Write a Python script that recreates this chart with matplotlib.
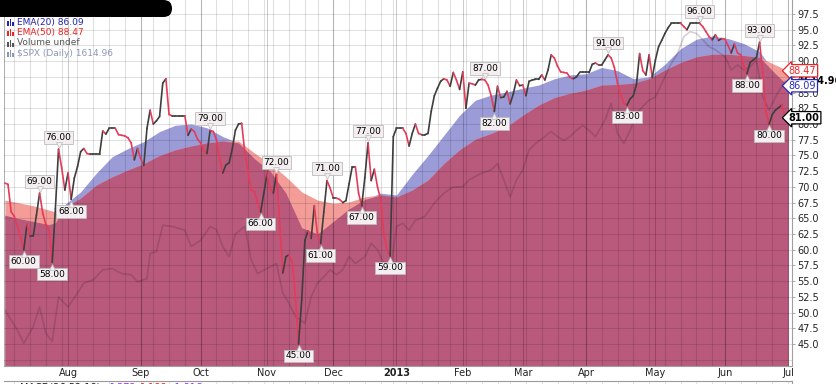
import numpy as np
import pandas as pd
import matplotlib
matplotlib.use("Agg")
import matplotlib.pyplot as plt
from matplotlib.collections import LineCollection
from matplotlib.patches import FancyBboxPatch, Rectangle
from matplotlib.transforms import Affine2D, offset_copy

W, H = 837, 384

# trading calendar (Jul 2012 - Jul 2013)
holidays = ["2012-07-04", "2012-09-03", "2012-10-29", "2012-10-30", "2012-11-22",
            "2012-12-25", "2013-01-01", "2013-01-21", "2013-02-18", "2013-03-29",
            "2013-05-27"]
days = pd.bdate_range("2012-07-02", "2013-07-02")
days = days[~days.isin(pd.to_datetime(holidays))]

# main indicator, one value per trading day starting at day 1 (2012-07-03)
pct_start = 1
pct = [70.6, 70.4, 66.0, 65.3, 63.7, 62.0, 60.0, 64.0, 62.2, 62.2,
       65.5, 69.0, 65.8, 64.0, 63.1, 58.0, 66.5, 76.0, 73.0, 69.5,
       72.2, 68.0, 71.4, 73.2, 75.6, 76.1, 75.3, 75.2, 75.2, 75.2,
       75.2, 78.9, 78.4, 79.3, 79.3, 79.3, 78.3, 78.2, 78.1, 77.8,
       77.0, 74.3, 76.1, 74.5, 73.4, 79.3, 82.2, 80.0, 80.5, 81.2,
       86.5, 87.2, 81.5, 81.3, 81.3, 81.3, 81.3, 81.3, 78.2, 79.2,
       78.8, 77.6, 77.0, 75.8, 75.3, 79.0, 78.8, 77.5, 74.5, 72.2,
       73.5, 73.8, 76.0, 79.0, 80.0, 80.1, 75.4, 72.5, 69.5, 69.3,
       67.5, 66.0, 69.0, 72.0, 69.8, 69.0, 72.0, 64.5, 56.3, 58.9,
       59.2, 58.0, 52.5, 45.0, 52.0, 61.5, 63.0, 61.8, 67.0, 62.3,
       61.0, 66.0, 71.0, 69.8, 68.2, 68.2, 68.0, 67.5, 67.8, 70.5,
       73.2, 73.2, 69.0, 67.0, 71.5, 77.0, 71.0, 72.8, 70.0, 68.0,
       62.5, 60.0, 59.0, 78.0, 79.3, 79.3, 79.3, 78.5, 76.5, 78.5,
       80.0, 78.5, 78.3, 78.3, 78.5, 82.0, 84.5, 85.7, 86.8, 87.2,
       87.0, 86.0, 88.2, 87.0, 85.5, 88.3, 82.5, 86.5, 86.4, 86.2,
       87.0, 87.1, 87.0, 86.2, 84.5, 82.0, 86.0, 84.2, 84.3, 85.2,
       83.2, 84.8, 87.0, 86.1, 86.2, 84.5, 86.8, 87.0, 87.1, 87.1,
       87.8, 87.0, 88.6, 91.0, 90.5, 89.2, 88.3, 88.2, 88.1, 87.4,
       87.2, 87.5, 88.2, 88.2, 88.2, 88.2, 89.5, 89.7, 89.4, 89.4,
       90.2, 91.0, 90.5, 89.0, 86.5, 84.6, 83.3, 83.0, 84.0, 84.5,
       86.3, 91.2, 88.5, 87.8, 91.0, 87.4, 90.2, 92.3, 93.3, 94.4,
       95.3, 96.0, 96.0, 96.0, 96.0, 95.5, 95.0, 96.0, 96.0, 96.0,
       96.0, 95.5, 94.7, 93.9, 93.4, 94.2, 93.3, 93.6, 93.5, 92.5,
       91.3, 92.7, 91.3, 91.0, 89.2, 88.0, 89.8, 90.2, 90.6, 93.0,
       88.0, 82.0, 80.0, 81.5, 82.2, 82.6, 83.0, 81.3, 81.0]

# swing points that carry a value label
peaks = [12, 18, 66, 87, 103, 116, 153, 192, 221, 240]
troughs = [7, 16, 22, 82, 94, 101, 114, 123, 156, 198, 236, 243]

# moving averages, read every few trading days
ema_idx = [1, 5, 10, 15, 17, 20, 25, 30, 35, 40, 45, 50, 55, 60, 65, 70, 75, 80,
           85, 90, 95, 100, 105, 110, 115, 120, 125, 130, 135, 140, 145, 150,
           155, 160, 165, 170, 175, 180, 185, 190, 195, 200, 205, 210, 215, 220,
           225, 230, 235, 240, 245, 249]
ema20 = [65.5, 65.0, 64.5, 64.0, 64.3, 67.2, 69.2, 72.2, 74.8, 76.1, 77.2, 78.8,
         79.8, 80.0, 79.4, 78.0, 77.0, 74.5, 72.5, 69.0, 63.5, 62.5, 64.5, 66.5,
         68.0, 69.0, 68.7, 72.0, 75.0, 78.2, 81.4, 83.8, 84.6, 85.1, 85.7, 86.2,
         87.2, 87.8, 88.0, 89.0, 88.5, 87.2, 87.5, 89.5, 92.0, 93.5, 94.0, 93.6,
         92.8, 91.5, 88.0, 86.09]
ema50 = [67.9, 67.5, 67.0, 66.3, 66.0, 66.8, 68.2, 70.3, 71.6, 72.7, 73.7, 75.0,
         75.9, 76.5, 77.0, 77.3, 77.3, 75.4, 73.7, 71.6, 69.2, 67.9, 67.4, 67.6,
         68.4, 68.7, 68.4, 69.5, 71.1, 73.7, 75.9, 77.6, 78.5, 79.6, 81.4, 83.0,
         84.2, 84.9, 85.4, 86.2, 86.3, 86.5, 87.2, 88.6, 89.8, 90.7, 91.1, 91.1,
         90.9, 90.6, 89.4, 88.47]

# $SPX overlay (scaled onto the chart axis)
spx_idx = [1, 5, 7, 10, 12, 14, 16, 18, 21, 24, 26, 29, 32, 35, 38, 41, 43, 46,
           47, 49, 51, 54, 58, 60, 63, 66, 68, 70, 72, 74, 77, 79, 81, 84, 87, 89,
           91, 93, 96, 98, 100, 102, 104, 106, 108, 110, 112, 115, 117, 119, 121,
           123, 125, 127, 129, 131, 134, 137, 140, 143, 146, 148, 152, 155, 157,
           159, 161, 163, 165, 167, 169, 172, 174, 176, 178, 180, 182, 184, 186,
           188, 191, 193, 195, 197, 199, 201, 203, 205, 207, 210, 212, 214, 216,
           218, 220, 222, 224, 226, 229, 231, 233, 235, 237, 239, 241, 243, 245,
           248]
spx = [50.4, 47.2, 45.1, 47.8, 50.9, 46.7, 45.4, 52.5, 50.9, 53.1, 54.7, 55.2,
       56.8, 57.0, 56.2, 56.0, 54.9, 55.4, 59.4, 59.7, 63.9, 63.7, 63.1, 60.5,
       61.5, 63.7, 63.2, 60.5, 58.9, 62.5, 63.7, 58.4, 56.2, 57.0, 57.8, 53.1,
       51.5, 49.4, 48.3, 52.5, 54.7, 55.7, 56.8, 56.0, 56.8, 58.9, 57.8, 58.9,
       61.0, 60.0, 57.8, 56.2, 63.7, 64.2, 63.1, 64.7, 65.3, 67.4, 69.0, 70.0,
       70.0, 71.1, 72.2, 72.7, 73.7, 71.1, 68.4, 71.1, 72.7, 75.9, 76.9, 78.0,
       78.8, 78.0, 77.4, 78.0, 79.0, 79.8, 79.0, 78.0, 80.6, 83.3, 78.5, 76.9,
       79.0, 81.7, 82.8, 83.8, 84.3, 87.5, 89.6, 91.2, 93.9, 94.7, 94.4, 93.4,
       92.3, 91.8, 90.7, 88.6, 89.4, 88.6, 89.1, 90.2, 84.3, 82.2, 84.3, 86.8]
spx_last = 1614.96

month_names = ["Aug", "Sep", "Oct", "Nov", "Dec", "2013", "Feb", "Mar", "Apr",
               "May", "Jun", "Jul"]

RED = "#e43c58"
DARK = "#3e3e3e"
CRIMSON = "#b95a7d"
SALMON = "#f39c98"
LAVENDER = "#9b9bd8"

plt.rcParams["font.family"] = ["DejaVu Sans"]

fig = plt.figure(figsize=(W / 100, H / 100), dpi=100)
px = Affine2D().scale(1 / W, 1 / H) + fig.transFigure

ax = fig.add_axes([4 / W, (H - 366) / H, 788 / W, 366 / H])
ax.set_xlim(0.73, 250.25)
ax.set_ylim(41.5, 99.73)

# gridlines: weekly and monthly verticals, every 2.5 horizontally
weekday = days.weekday.values
week_starts = [i for i in range(1, len(days)) if weekday[i] < weekday[i - 1]]
month_starts = [i for i in range(1, len(days)) if days[i].month != days[i - 1].month]
for i in week_starts:
    ax.axvline(i, color="black", alpha=0.12, lw=0.75, zorder=3)
for i in month_starts:
    ax.axvline(i, color="black", alpha=0.2, lw=0.75, zorder=3)
for v in np.arange(42.5, 100, 2.5):
    ax.axhline(v, color="black", alpha=0.12, lw=0.75, zorder=3)

# EMA areas
ex = np.array(ema_idx, dtype=float)
e20 = np.array(ema20)
e50 = np.array(ema50)
ax.fill_between(ex, 41.5, e20, color=LAVENDER, lw=0, zorder=1)
ax.fill_between(ex, 41.5, e50, color=SALMON, lw=0, zorder=1)
ax.fill_between(ex, 41.5, np.minimum(e20, e50), color=CRIMSON, lw=0, zorder=1.5)

# SPX overlay
ax.plot(spx_idx, spx, color="#3a1830", alpha=0.2, lw=1.2, zorder=2)

# main line, red on down days, dark otherwise
xs = np.arange(pct_start, pct_start + len(pct))
ys = np.array(pct)
segs = np.stack([np.column_stack([xs[:-1], ys[:-1]]),
                 np.column_stack([xs[1:], ys[1:]])], axis=1)
cols = [RED if d < 0 else DARK for d in np.diff(ys)]
ax.add_collection(LineCollection(segs, colors=cols, linewidths=1.2, zorder=4,
                                 capstyle="round", joinstyle="round"))

# swing labels
box = dict(boxstyle="square,pad=0.2", fc="#f4eef1", ec="#bdbdbd", lw=0.6)
for idx_list, sign, mk in [(peaks, 1, "v"), (troughs, -1, "^")]:
    for i in idx_list:
        v = pct[i - pct_start]
        ax.annotate(f"{v:.2f}", xy=(i, v), xytext=(0, sign * 8.5),
                    textcoords="offset points", ha="center", va="center",
                    fontsize=6.5, color="black", bbox=box, zorder=6)
        tr = offset_copy(ax.transData, fig=fig, x=0, y=sign * 3.2, units="points")
        ax.plot(i, v, marker=mk, ms=4.5, mfc="#f4eef1", mec="#bdbdbd", mew=0.5,
                transform=tr, zorder=6.5)

# axes styling
ax.spines["top"].set_visible(False)
for s in ["left", "right", "bottom"]:
    ax.spines[s].set_color("#a0a0a0")
ax.spines["left"].set_linewidth(0.6)
ax.spines["bottom"].set_linestyle((0, (1, 1)))
ax.yaxis.tick_right()
ax.set_yticks(np.arange(45, 98, 2.5))
ax.set_yticklabels([f"{v:.1f}" for v in np.arange(45, 98, 2.5)])
ax.tick_params(axis="y", length=2.5, width=0.6, color="#9a9a9a", pad=1.5,
               labelsize=7, labelcolor="#222222")
ax.set_xticks(month_starts)
ax.set_xticklabels(month_names)
ax.tick_params(axis="x", length=0, pad=1.5, labelsize=7, labelcolor="#222222")
for lab in ax.get_xticklabels():
    if lab.get_text() == "2013":
        lab.set_fontweight("bold")

# right-side value tags (the SPX tag sits mostly behind the others)
yt = ax.get_yaxis_transform()
ax.text(1.007, spx[-1], f"{spx_last:.2f}", transform=yt, fontsize=7,
        fontweight="bold", color="black", va="center", ha="left", zorder=7,
        clip_on=False)
for val, col, bold in [(ema50[-1], "#e8262a", False), (ema20[-1], "#2a2ab8", False),
                       (pct[-1], "black", True)]:
    ax.text(0.996, val, f"{val:.2f}", transform=yt, fontsize=7, color=col,
            fontweight="bold" if bold else "normal", va="center", ha="left",
            zorder=8, clip_on=False,
            bbox=dict(boxstyle="larrow,pad=0.12", fc="white", ec=col, lw=0.9))

# legend block at top left
legend = [(f"EMA(20) {ema20[-1]:.2f}", "#2222aa"),
          (f"EMA(50) {ema50[-1]:.2f}", "#ee2222"),
          ("Volume undef", "#555555"),
          (f"$SPX (Daily) {spx_last:.2f}", "#8a97b5")]
for k, (txt, col) in enumerate(legend):
    yc = H - (22 + 10.4 * k)
    for j, hgt in enumerate([5, 7, 4]):
        fig.add_artist(Rectangle((7 + j * 2.6, yc - 4), 1.8, hgt, color=col,
                                 transform=px, lw=0))
    fig.text(17, yc, txt, transform=px, fontsize=6.5, color=col, va="center",
             ha="left")

# redaction blob over title
fig.add_artist(FancyBboxPatch((-12, H - 17), 184, 17,
                              boxstyle="round,pad=0,rounding_size=8.5",
                              fc="black", ec="none", transform=px))

# top of the MACD panel below, cut off by the image edge
ax2 = fig.add_axes([4 / W, (H - 400) / H, 788 / W, 19 / H])
ax2.set_xlim(ax.get_xlim())
ax2.set_ylim(0, 1)
for i in week_starts:
    ax2.axvline(i, color="black", alpha=0.12, lw=0.75)
for s in ["left", "bottom"]:
    ax2.spines[s].set_visible(False)
ax2.spines["top"].set_color("#9a9a9a")
ax2.spines["top"].set_linestyle((0, (1, 1)))
ax2.spines["right"].set_color("#9a9a9a")
ax2.set_xticks([])
ax2.set_yticks([])
fig.text(20, H - 388, "MACD(26,52,18)", transform=px, fontsize=7, color="#222222",
         va="center")
fig.text(108, H - 388, "0.372,", transform=px, fontsize=7, color="#9933ff", va="center")
fig.text(140, H - 388, "1.188,", transform=px, fontsize=7, color="#ee2222", va="center")
fig.text(172, H - 388, "-1.816", transform=px, fontsize=7, color="#9933ff", va="center")

fig.savefig("out.png", dpi=100)
